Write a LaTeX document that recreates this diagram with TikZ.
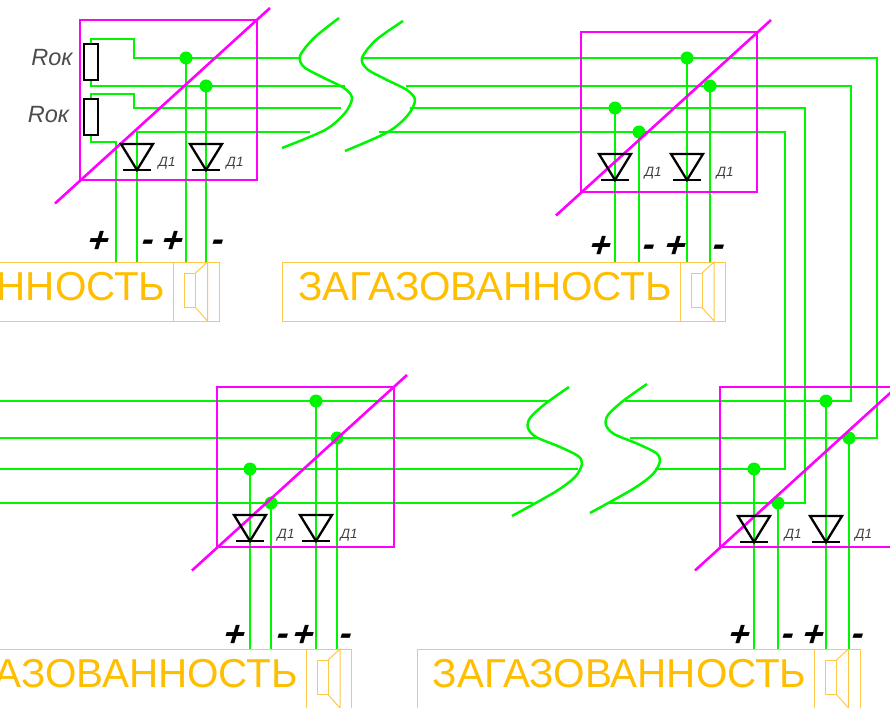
\documentclass[tikz,border=0pt]{standalone}
\usepackage{fontspec}
\setmainfont{Liberation Sans}
\newfontfamily\signfont[FakeSlant=0.3,UprightFont=* Bold]{Liberation Sans}
\definecolor{wirec}{RGB}{0,245,0}
\definecolor{magc}{RGB}{255,0,255}
\definecolor{orc}{RGB}{255,190,0}
\definecolor{orl}{RGB}{255,200,70}
\tikzset{
 x=1pt,y=-1pt,
 wire/.style={draw=wirec,line width=2.7pt},
 curve/.style={draw=wirec,line width=2.5pt,smooth},
 dot/.style={circle,fill=wirec,inner sep=0pt,outer sep=0pt,minimum size=13pt},
 panelbox/.style={draw=magc,line width=2.6pt},
 sym/.style={draw=black,line width=2.3pt},
 resistor/.style={sym,fill=white,minimum width=14pt,minimum height=36pt,inner sep=0pt,outer sep=0pt},
 alarm/.style={draw=orl,line width=1pt,anchor=north west,minimum height=#1,inner sep=0pt},
 thinor/.style={draw=orl,line width=1pt},
 alarmtxt/.style={text=orc,anchor=west,inner sep=0pt,font=\fontsize{40.4}{41}\selectfont},
 dlabel/.style={inner sep=0pt,text=black!75,font=\fontsize{13.5}{14}\selectfont\itshape},
 rlabel/.style={inner sep=0pt,text=black!70,font=\fontsize{23.5}{24}\selectfont\itshape},
 sign/.style={inner sep=0pt,font=\fontsize{36}{36}\selectfont\signfont},
}
% name, x, y, width
\newcommand{\PanelBox}[4]{%
 \coordinate (#1nw) at (#2,#3);
 \coordinate (#1se) at (#2+#4,#3+160);
 \coordinate (#1a) at (#2-25,#3+183.5);
 \coordinate (#1b) at (#2+190,#3-12);
 \draw[panelbox] (#1nw) rectangle (#1se);
 \draw[panelbox] (#1a) -- (#1b);
}
\newcommand{\DiodeSym}[3]{%
 \coordinate (#1) at (#2,#3);
 \draw[sym,line join=miter] (#2-16,#3-26) -- (#2+16,#3-26) -- (#1) -- cycle;
 \draw[sym] (#2-14,#3) -- (#2+14,#3);
}
% name, left x of box, top y, height
\newcommand{\AlarmBox}[4]{%
 \node[alarm=#4 pt,minimum width=443pt] (#1) at (#2,#3) {};
 \node[alarmtxt] (#1t) at (#2+16,#3+24.5) {ЗАГАЗОВАННОСТЬ};
 \coordinate (#1d) at (#2+398,#3);
 \draw[thinor] (#1d) -- ++(0,#4);
 \draw[thinor] (#2+409,#3+11) rectangle (#2+420,#3+45.5);
 \draw[thinor] (#2+420,#3+11) -- (#2+432,#3) -- (#2+432,#3+59) -- (#2+420,#3+45.5);
}
\begin{document}
\begin{tikzpicture}
\useasboundingbox (0,0) rectangle (890,708);
\clip (0,0) rectangle (890,708);

% ---------- alarm boxes
\AlarmBox{alA}{-224.5}{262}{59}
\AlarmBox{alB}{282}{262}{59}
\AlarmBox{alC}{-92}{649}{62}
\AlarmBox{alD}{416.5}{649}{62}

% ---------- dots
\node[dot] (a1) at (186,58) {};
\node[dot] (a2) at (206,86) {};
\node[dot] (b1) at (687,58) {};
\node[dot] (b2) at (710,86) {};
\node[dot] (b3) at (615,108) {};
\node[dot] (b4) at (639,132) {};
\node[dot] (c1) at (316,401) {};
\node[dot] (c2) at (337,438) {};
\node[dot] (c3) at (250,469) {};
\node[dot] (c4) at (271,503) {};
\node[dot] (d1) at (826,401) {};
\node[dot] (d2) at (849,438) {};
\node[dot] (d3) at (754,469) {};
\node[dot] (d4) at (778,503) {};

% ---------- resistors
\node[resistor] (r1) at (91,62) {};
\node[resistor] (r2) at (91,117) {};

% ---------- top left wiring
\coordinate (s1a) at (300,58);
\coordinate (s1b) at (345,86);
\coordinate (s1c) at (341,108);
\coordinate (s1d) at (310,132);
\draw[wire] (r1.north) -- (91,39) -- (134,39) -- (134,58) -- (s1a);
\draw[wire] (r1.south) -- (91,86) -- (s1b);
\draw[wire] (r2.north) -- (91,94) -- (134,94) -- (134,108) -- (s1c);
\draw[wire] (r2.south) -- (91,142) -- (116,142) -- (116,262);
\coordinate (al1) at (137,262);
\draw[wire] (al1) -- (137,132) -- (s1d);
\draw[wire] (a1.center) -- (a1 |- alA.north);
\draw[wire] (a2.center) -- (a2 |- alA.north);

% ---------- top long runs
\coordinate (s2a) at (362,58);
\coordinate (s2b) at (406,86);
\coordinate (s2c) at (410,108);
\coordinate (s2d) at (379,132);
\draw[wire] (s2a) -- (877,58) -- (877,438) -- (d2.center);
\draw[wire] (s2b) -- (851,86) -- (851,401) -- (d1.center);
\draw[wire] (s2c) -- (805,108) -- (805,503) -- (d4.center);
\draw[wire] (s2d) -- (785,132) -- (785,469) -- (d3.center);
\foreach \n in {b1,b2,b3,b4}{\draw[wire] (\n.center) -- (\n |- alB.north);}

% ---------- bottom runs
\coordinate (l1) at (0,401);
\coordinate (l2) at (0,438);
\coordinate (l3) at (0,469);
\coordinate (l4) at (0,503);
\draw[wire] (l1) -- (548,401);
\draw[wire] (l2) -- (538,438);
\draw[wire] (l3) -- (578,469);
\draw[wire] (l4) -- (533,503);
\draw[wire] (625,401) -- (d1.center);
\draw[wire] (630,438) -- (d2.center);
\draw[wire] (655,469) -- (d3.center);
\draw[wire] (607,503) -- (d4.center);
\foreach \n in {c1,c2,c3,c4}{\draw[wire] (\n.center) -- (\n |- alC.north);}
\foreach \n in {d1,d2,d3,d4}{\draw[wire] (\n.center) -- (\n |- alD.north);}

% ---------- break curves
\draw[curve] plot coordinates {(339,18)(314,38)(300,56)(304,67)(322,77)(344,88)(352,98)(345,113)(325,130)(282,148)};
\draw[curve] plot coordinates {(403,21)(376,40)(362,58)(367,69)(385,79)(407,90)(415,100)(408,115)(388,132)(345,151)};
\draw[curve] plot coordinates {(569,387)(545,404)(530,418)(528,428)(536,437)(560,447)(578,456)(582,464)(575,477)(555,492)(512,516)};
\draw[curve] plot coordinates {(647,384)(623,401)(608,415)(606,425)(614,434)(638,444)(656,453)(660,461)(653,474)(633,489)(590,513)};

% ---------- panels
\PanelBox{pA}{80}{20}{177}
\PanelBox{pB}{581}{32}{176}
\PanelBox{pC}{217}{387}{177}
\PanelBox{pD}{720}{387}{177}

% ---------- resistors again on top of the panel lines
\draw[sym] (r1.north west) rectangle (r1.south east);
\draw[sym] (r2.north west) rectangle (r2.south east);

% ---------- diodes
\DiodeSym{dgA1}{137}{170}
\DiodeSym{dgA2}{206}{170}
\DiodeSym{dgB1}{615}{180}
\DiodeSym{dgB2}{687}{180}
\DiodeSym{dgC1}{250}{541}
\DiodeSym{dgC2}{316}{541}
\DiodeSym{dgD1}{754}{542}
\DiodeSym{dgD2}{826}{542}

% ---------- labels
\node[rlabel] (rk1) at (52,58) {Rок};
\node[rlabel] (rk2) at (48.5,115) {Rок};
\foreach \nm/\x/\y in {ta/167/163,tb/235/163,tc/653/173,td/725/173,te/286/535,tf/349/535,tg/793/535,th/863.5/535}{
  \node[dlabel] (\nm) at (\x,\y) {Д1};
}
\foreach \nm/\x/\y in {pa/96.5/242,pc/170.5/242,pe/598.5/247,pg/672.5/247,pi/232/636,pk/301.5/636,pm/736.5/636,po/810.5/636}{
  \node[sign] (\nm) at (\x,\y) {+};
}
\foreach \nm/\x/\y in {pb/145/241,pd/215/241,pf/646/246,ph/716/246,pj/280/635,pl/343/635,pn/785/635,pp/855/635}{
  \node[sign,yshift=-5pt] (\nm) at (\x,\y) {-};
}
\end{tikzpicture}
\end{document}
